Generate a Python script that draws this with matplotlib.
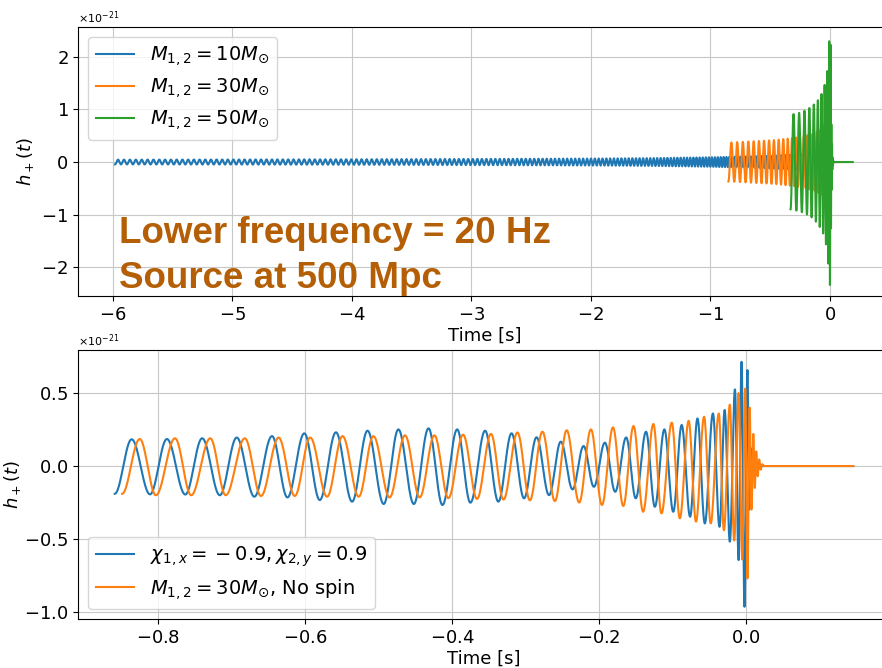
import numpy as np
import matplotlib.pyplot as plt

# ---- top panel: knot times [s], GW frequency [Hz], envelope [1e-21] ----
m10_t = [-5.98, -5.0, -4.0, -3.0, -2.0, -1.5, -1.0, -0.6, -0.3, -0.1, -0.03, 0.0, 0.01, 0.02]
m10_f = [20, 21.4, 23.2, 26, 30.6, 34, 39.6, 47, 62, 93, 140, 250, 500, 500]
m10_a = [0.045, 0.048, 0.052, 0.058, 0.066, 0.074, 0.09, 0.11, 0.14, 0.19, 0.25, 0.3, 0.05, 0.0]
m10_end = 0.05

m30_t = [-0.85, -0.6, -0.45, -0.3, -0.2, -0.1, -0.05, -0.02, 0.0, 0.005, 0.01, 0.02, 0.03]
m30_f = [20, 23, 25, 29, 33, 43, 55, 80, 150, 280, 300, 300, 300]
m30_a = [0.37, 0.40, 0.42, 0.46, 0.5, 0.58, 0.68, 0.85, 1.25, 0.7, 0.3, 0.05, 0.0]
m30_end = 0.146

m50_t = [-0.33, -0.25, -0.2, -0.15, -0.1, -0.06, -0.03, -0.015, -0.006, 0.004, 0.01, 0.02, 0.03]
m50_f = [20, 22, 24, 27, 31, 37, 47, 58, 75, 100, 180, 180, 180]
m50_a = [0.9, 0.94, 0.99, 1.06, 1.18, 1.34, 1.6, 1.9, 2.34, 2.34, 0.8, 0.1, 0.0]
m50_end = 0.19

# ---- bottom panel: extrema (time [s], h [1e-21]) ----
spin_t = [-0.859, -0.836, -0.811, -0.788, -0.763, -0.740, -0.716, -0.693, -0.669, -0.645,
          -0.624, -0.601, -0.580, -0.558, -0.536, -0.515, -0.493, -0.473, -0.452, -0.432,
          -0.413, -0.393, -0.375, -0.355, -0.337, -0.319, -0.302, -0.285, -0.268, -0.252,
          -0.236, -0.221, -0.207, -0.192, -0.178, -0.163, -0.150, -0.136, -0.124, -0.111,
          -0.099, -0.0875, -0.076, -0.066, -0.056, -0.045, -0.036, -0.029, -0.022, -0.015,
          -0.010, -0.006, -0.002, 0.002, 0.0045, 0.007, 0.0095, 0.012, 0.015, 0.146]
spin_h = [-0.19, 0.183, -0.194, 0.185, -0.195, 0.19, -0.20, 0.195, -0.21, 0.205,
          -0.215, 0.224, -0.233, 0.231, -0.244, 0.242, -0.26, 0.251, -0.26, 0.258,
          -0.267, 0.251, -0.251, 0.242, -0.244, 0.224, -0.221, 0.197, -0.199, 0.167,
          -0.160, 0.137, -0.142, 0.16, -0.176, 0.196, -0.221, 0.235, -0.279, 0.251,
          -0.313, 0.281, -0.347, 0.326, -0.393, 0.36, -0.416, 0.384, -0.518, 0.525,
          -0.644, 0.714, -0.964, 0.657, -0.30, 0.12, -0.04, 0.01, 0.0, 0.0]

nospin_t = [-0.849, -0.825, -0.803, -0.777, -0.755, -0.729, -0.708, -0.682, -0.660, -0.636,
            -0.614, -0.593, -0.570, -0.549, -0.527, -0.507, -0.485, -0.464, -0.444, -0.424,
            -0.405, -0.385, -0.366, -0.347, -0.330, -0.311, -0.294, -0.277, -0.260, -0.244,
            -0.227, -0.211, -0.196, -0.181, -0.167, -0.153, -0.140, -0.126, -0.115, -0.101,
            -0.090, -0.078, -0.068, -0.057, -0.048, -0.037, -0.030, -0.022, -0.016, -0.010,
            -0.005, -0.001, 0.002, 0.005, 0.0075, 0.010, 0.012, 0.014, 0.016, 0.018,
            0.020, 0.022, 0.025, 0.146]
nospin_h = [-0.19, 0.185, -0.20, 0.19, -0.20, 0.19, -0.20, 0.19, -0.205, 0.195,
            -0.205, 0.195, -0.21, 0.205, -0.21, 0.205, -0.215, 0.21, -0.215, 0.21,
            -0.22, 0.215, -0.225, 0.22, -0.23, 0.23, -0.235, 0.235, -0.24, 0.245,
            -0.25, 0.251, -0.267, 0.265, -0.274, 0.274, -0.313, 0.288, -0.324, 0.297,
            -0.358, 0.31, -0.381, 0.338, -0.393, 0.36, -0.44, 0.42, -0.51, 0.50,
            -0.64, 0.53, -0.77, 0.40, -0.30, 0.22, -0.15, 0.10, -0.07, 0.045,
            -0.025, 0.012, 0.0, 0.0]

top_labels = [r'$M_{1,2} = 10 M_{\odot}$', r'$M_{1,2} = 30 M_{\odot}$', r'$M_{1,2} = 50 M_{\odot}$']
bot_labels = [r'$\chi_{1,x} = {}-0.9, \chi_{2,y} = 0.9$', r'$M_{1,2} = 30 M_{\odot}$, No spin']
note_lines = ['Lower frequency = 20 Hz', 'Source at 500 Mpc']


def chirp(tk, fk, ak, t_end, phi0=np.pi, dt=1 / 8192):
    t = np.arange(tk[0], t_end, dt)
    f = np.interp(t, tk, fk)
    a = np.interp(t, tk, ak)
    phase = phi0 + 2 * np.pi * np.cumsum(f) * dt
    return t, a * np.cos(phase)


def from_extrema(te, he, dt=2e-4):
    te = np.asarray(te)
    he = np.asarray(he)
    t = np.append(np.arange(te[0], te[-1], dt), te[-1])
    i = np.clip(np.searchsorted(te, t, side='right') - 1, 0, len(te) - 2)
    s = (t - te[i]) / (te[i + 1] - te[i])
    h = 0.5 * (he[i] + he[i + 1]) + 0.5 * (he[i] - he[i + 1]) * np.cos(np.pi * s)
    return t, h


plt.rcParams['font.size'] = 13
plt.rcParams['axes.formatter.use_mathtext'] = True
colors = ['#1f77b4', '#ff7f0e', '#2ca02c']

fig = plt.figure(figsize=(8.82, 6.68), dpi=100)
ax1 = fig.add_axes([78 / 882, 1 - 296 / 668, 813 / 882, 269 / 668])
ax2 = fig.add_axes([78 / 882, 1 - 619 / 668, 812 / 882, 269 / 668])

for (tk, fk, ak, te), lab, c in zip([(m10_t, m10_f, m10_a, m10_end),
                                     (m30_t, m30_f, m30_a, m30_end),
                                     (m50_t, m50_f, m50_a, m50_end)], top_labels, colors):
    t, h = chirp(tk, fk, ak, te)
    ax1.plot(t, h * 1e-21, color=c, lw=1.5, label=lab)

for (te, he), lab, c in zip([(spin_t, spin_h), (nospin_t, nospin_h)], bot_labels, colors):
    t, h = from_extrema(te, he)
    ax2.plot(t, h * 1e-21, color=c, lw=1.5, label=lab)

ax1.set_xlim(-6.29, 0.51)
ax1.set_ylim(-2.55e-21, 2.57e-21)
ax1.set_xticks([-6, -5, -4, -3, -2, -1, 0])
ax1.set_yticks(np.array([-2, -1, 0, 1, 2]) * 1e-21)
ax2.set_xlim(-0.909, 0.196)
ax2.set_ylim(-1.048e-21, 0.795e-21)
ax2.set_xticks([-0.8, -0.6, -0.4, -0.2, 0.0])
ax2.set_yticks(np.array([-1.0, -0.5, 0.0, 0.5]) * 1e-21)

for ax in (ax1, ax2):
    ax.grid(True, color='#c8c8c8')
    ax.set_xlabel('Time [s]', labelpad=2)
    ax.yaxis.get_offset_text().set_fontsize(8)
ax1.set_ylabel(r'$h_+(t)$')
ax2.set_ylabel(r'$h_+(t)$', labelpad=1)

ax1.legend(loc='upper left', fontsize=14, labelspacing=0.4)
ax2.legend(loc='lower left', fontsize=14, labelspacing=0.4)

for y, line in zip([243, 288], note_lines):
    fig.text(119 / 882, 1 - y / 668, line, color='#b45f06', fontsize=26.5,
             fontweight='bold', family='Liberation Sans', va='baseline')

fig.savefig('out.png', dpi=100)
